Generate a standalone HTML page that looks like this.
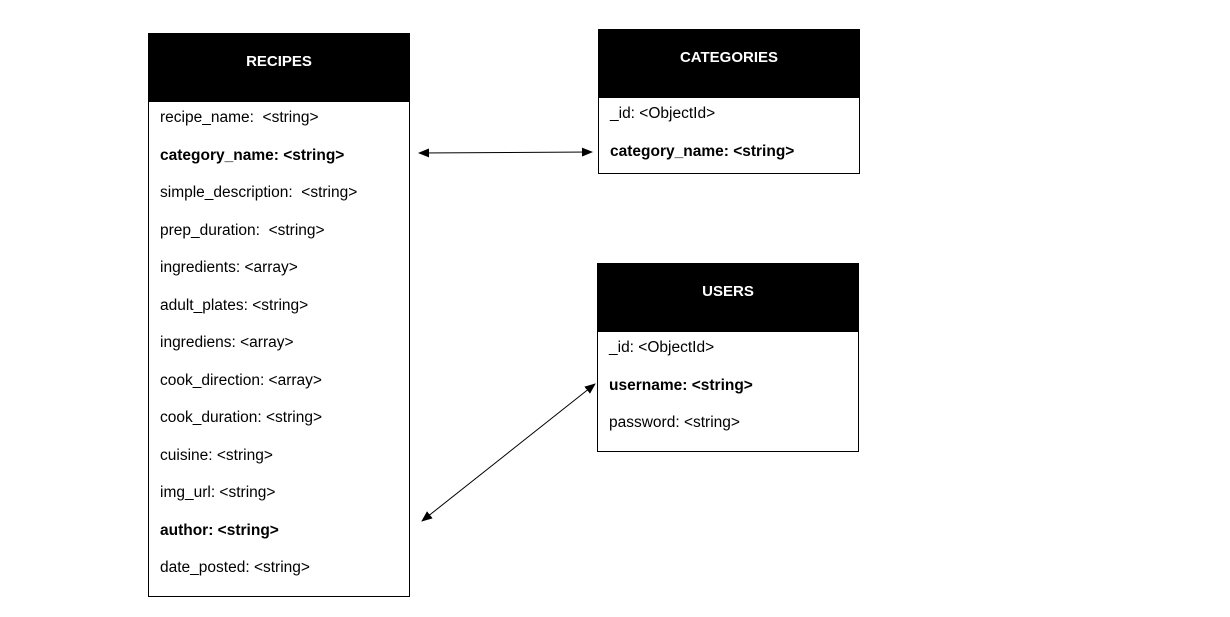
<!DOCTYPE html>
<html><head><style>
body{margin:0;width:1230px;height:617px;background:#fff;position:relative;font-family:"Liberation Sans",sans-serif;overflow:hidden}
.box{position:absolute;border:1px solid #000;box-sizing:border-box;background:#fff}
.hd{position:absolute;left:0;top:0;right:0;background:#000;color:#fff;font-weight:bold;font-size:15px;text-align:center}
.t{position:absolute;font-size:15.5px;color:#000;white-space:pre;transform:translateY(-50%);margin-top:2px}
.b{font-weight:bold}
</style></head><body>
<div class="box" style="left:148px;top:33px;width:262px;height:564px"><div class="hd" style="height:68px;line-height:56px">RECIPES</div></div>
<div class="box" style="left:598px;top:29px;width:262px;height:145px"><div class="hd" style="height:68px;line-height:56px">CATEGORIES</div></div>
<div class="box" style="left:597px;top:263px;width:262px;height:189px"><div class="hd" style="height:68px;line-height:56px">USERS</div></div>

<div class="t" style="left:160px;top:116px">recipe_name:  &lt;string&gt;</div>
<div class="t b" style="left:160px;top:154px">category_name: &lt;string&gt;</div>
<div class="t" style="left:160px;top:191px">simple_description:  &lt;string&gt;</div>
<div class="t" style="left:160px;top:229px">prep_duration:  &lt;string&gt;</div>
<div class="t" style="left:160px;top:266px">ingredients: &lt;array&gt;</div>
<div class="t" style="left:160px;top:304px">adult_plates: &lt;string&gt;</div>
<div class="t" style="left:160px;top:341px">ingrediens: &lt;array&gt;</div>
<div class="t" style="left:160px;top:379px">cook_direction: &lt;array&gt;</div>
<div class="t" style="left:160px;top:416px">cook_duration: &lt;string&gt;</div>
<div class="t" style="left:160px;top:454px">cuisine: &lt;string&gt;</div>
<div class="t" style="left:160px;top:491px">img_url: &lt;string&gt;</div>
<div class="t b" style="left:160px;top:529px">author: &lt;string&gt;</div>
<div class="t" style="left:160px;top:566px">date_posted: &lt;string&gt;</div>

<div class="t" style="left:610px;top:112px">_id: &lt;ObjectId&gt;</div>
<div class="t b" style="left:610px;top:150px">category_name: &lt;string&gt;</div>

<div class="t" style="left:609px;top:346px">_id: &lt;ObjectId&gt;</div>
<div class="t b" style="left:609px;top:384px">username: &lt;string&gt;</div>
<div class="t" style="left:609px;top:421px">password: &lt;string&gt;</div>

<svg width="1230" height="617" style="position:absolute;left:0;top:0">
<defs><marker id="a" markerWidth="11" markerHeight="9" refX="10" refY="4.5" orient="auto-start-reverse" markerUnits="userSpaceOnUse"><path d="M0,0L11,4.5L0,9z" fill="#000"/></marker></defs>
<line x1="419" y1="153" x2="592" y2="152" stroke="#000" stroke-width="1" marker-start="url(#a)" marker-end="url(#a)"/>
<line x1="422" y1="521" x2="595" y2="384" stroke="#000" stroke-width="1" marker-start="url(#a)" marker-end="url(#a)"/>
</svg>
</body></html>
